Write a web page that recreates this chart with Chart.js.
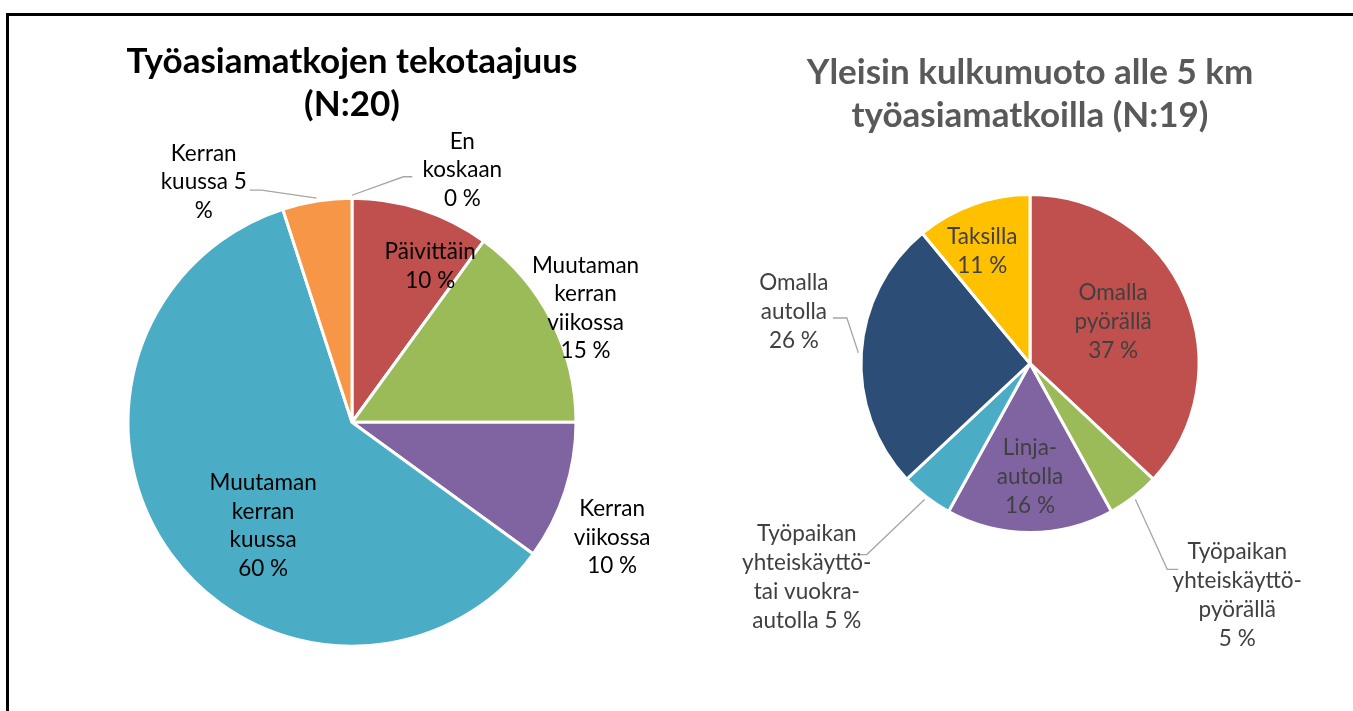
<!DOCTYPE html>
<html lang="fi">
<head>
<meta charset="utf-8">
<script src="https://cdn.jsdelivr.net/npm/chart.js@4"></script>
<style>
  html, body { margin: 0; padding: 0; background: #fff; overflow: hidden; }
  #frame { position: absolute; left: 6px; top: 13px; width: 1400px; height: 800px;
           border-left: 3px solid #000; border-top: 3px solid #000; }
  #left { position: absolute; left: 0; top: 0; }
  #right { position: absolute; left: 707px; top: 0; }
</style>
</head>
<body>
<div id="frame"></div>
<canvas id="left" width="704" height="718"></canvas>
<canvas id="right" width="646" height="711"></canvas>
<script>

// left chart: how often work trips are made (N:20)
const freqCategories = ['Päivittäin', 'Muutaman kerran viikossa', 'Kerran viikossa',
                        'Muutaman kerran kuussa', 'Kerran kuussa', 'En koskaan'];
const freqValues = [10, 15, 10, 60, 5, 0];
const freqColors = ['#C0504D', '#9BBB59', '#8064A2', '#4BACC6', '#F79646', '#2C4D75'];

// right chart: most common mode under 5 km (N:19)
const modeCategories = ['Omalla pyörällä', 'Työpaikan yhteiskäyttöpyörällä', 'Linja-autolla',
                        'Työpaikan yhteiskäyttö- tai vuokra-autolla', 'Omalla autolla', 'Taksilla'];
const modeValues = [37, 5, 16, 5, 26, 11];
const modeColors = ['#C0504D', '#9BBB59', '#8064A2', '#4BACC6', '#2C4D75', '#FFC000'];

// how each data label wraps, {v} gets the value
const freqLines = [
    ['Päivittäin', '{v} %'],
    ['Muutaman', 'kerran', 'viikossa', '{v} %'],
    ['Kerran', 'viikossa', '{v} %'],
    ['Muutaman', 'kerran', 'kuussa', '{v} %'],
    ['Kerran', 'kuussa {v}', '%'],
    ['En', 'koskaan', '{v} %']
];
const modeLines = [
    ['Omalla', 'pyörällä', '{v} %'],
    ['Työpaikan', 'yhteiskäyttö-', 'pyörällä', '{v} %'],
    ['Linja-', 'autolla', '{v} %'],
    ['Työpaikan', 'yhteiskäyttö-', 'tai vuokra-', 'autolla {v} %'],
    ['Omalla', 'autolla', '{v} %'],
    ['Taksilla', '{v} %']
];

// label placement: rf = distance from centre / radius, da = turn from slice middle (deg)
const freqPlaces = [
    { rf: 0.78, da: 8.6 },
    { rf: 1.16, da: 1 },
    { rf: 1.27, da: 5.9 },
    { rf: 0.61, da: -13.4 },
    { rf: 1.26, da: -22.7, leader: { dx: 46, dy: 8, h: 12 } },
    { rf: 1.23, da: 23.6, leader: { dx: -50, dy: 7, h: -9 } }
];
const modePlaces = [
    { rf: 0.55, da: -3.2 },
    { rf: 1.84, da: -4, leader: { dx: -59, dy: -26, h: -11 } },
    { rf: 0.67, da: 0 },
    { rf: 1.83, da: 8.4, leader: { dx: 51, dy: -23, h: 9 } },
    { rf: 1.43, da: 8.7, leader: { dx: 39, dy: 6, h: 14 } },
    { rf: 0.72, da: -3.3 }
];

const pieLabels = {
    id: 'pieLabels',
    afterDatasetsDraw(chart, args, opts) {
        const ctx = chart.ctx;
        const meta = chart.getDatasetMeta(0);
        const values = chart.data.datasets[0].data;
        ctx.save();
        ctx.font = opts.font;
        ctx.textAlign = 'center';
        ctx.textBaseline = 'middle';
        meta.data.forEach((arc, i) => {
            const p = arc.getProps(['x', 'y', 'startAngle', 'endAngle', 'outerRadius'], true);
            const place = opts.places[i];
            const mid = (p.startAngle + p.endAngle) / 2;
            const a = mid + place.da * Math.PI / 180;
            const lx = p.x + Math.cos(a) * p.outerRadius * place.rf;
            const ly = p.y + Math.sin(a) * p.outerRadius * place.rf;
            const lines = opts.lines[i].map(s => s.replace('{v}', values[i]));
            const top = ly - (lines.length - 1) * opts.lineHeight / 2;
            if (place.leader) {
                const ex = lx + place.leader.dx;
                const ey = ly + place.leader.dy;
                ctx.beginPath();
                ctx.moveTo(ex, ey);
                ctx.lineTo(ex + place.leader.h, ey);
                ctx.lineTo(p.x + Math.cos(mid) * (p.outerRadius + 3), p.y + Math.sin(mid) * (p.outerRadius + 3));
                ctx.strokeStyle = '#A6A6A6';
                ctx.lineWidth = 1.3;
                ctx.stroke();
            }
            ctx.fillStyle = opts.color;
            lines.forEach((s, k) => ctx.fillText(s, lx, top + k * opts.lineHeight));
        });
        ctx.restore();
    }
};

function makePie(id, labels, values, colors, title, titleColor, titlePadTop, padBottom, radius, labelOpts) {
    return new Chart(document.getElementById(id), {
        type: 'pie',
        data: {
            labels: labels,
            datasets: [{
                data: values,
                backgroundColor: colors,
                borderColor: '#ffffff',
                borderWidth: 3
            }]
        },
        options: {
            responsive: false,
            animation: false,
            radius: radius,
            layout: { padding: { top: 0, bottom: padBottom, left: 0, right: 0 } },
            plugins: {
                legend: { display: false },
                tooltip: { enabled: false },
                title: {
                    display: true,
                    text: title,
                    color: titleColor,
                    font: { family: 'Lato', size: 35, weight: 'bold', lineHeight: 43 / 35 },
                    padding: { top: titlePadTop, bottom: 0 }
                },
                pieLabels: labelOpts
            }
        },
        plugins: [pieLabels]
    });
}

makePie('left', freqCategories, freqValues, freqColors,
    ['Työasiamatkojen tekotaajuus', '(N:20)'], '#000000', 40.5, 0, 224,
    { font: '22.5px Lato', color: '#000000', lineHeight: 28.5, lines: freqLines, places: freqPlaces });

makePie('right', modeCategories, modeValues, modeColors,
    ['Yleisin kulkumuoto alle 5 km', 'työasiamatkoilla (N:19)'], '#595959', 51.5, 121.5, 169,
    { font: '22.5px Lato', color: '#404040', lineHeight: 29, lines: modeLines, places: modePlaces });

</script>
</body>
</html>
